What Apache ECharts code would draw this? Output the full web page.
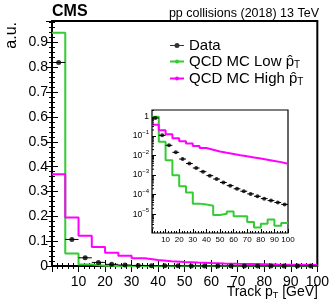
<!DOCTYPE html>
<html>
<head>
<meta charset="utf-8">
<script src="https://cdn.jsdelivr.net/npm/echarts@6/dist/echarts.min.js"></script>
<style>
html,body{margin:0;padding:0;background:#fff;}
#chart{width:332px;height:302px;}
</style>
</head>
<body>
<div id="chart"></div>
<script>
// ---- data ----
const binEdges = [0, 5, 10, 15, 20, 25, 30, 35, 40, 45, 50, 55, 60, 65, 70, 75, 80, 85, 90, 95, 100];
const binCenters = [2.5, 7.5, 12.5, 17.5, 22.5, 27.5, 32.5, 37.5, 42.5, 47.5, 52.5, 57.5, 62.5, 67.5, 72.5, 77.5, 82.5, 87.5, 92.5, 97.5];
const dataVals = [0.82, 0.107, 0.033, 0.0145, 0.0066, 0.0039, 0.0023, 0.0015, 0.00094, 0.00063,
                  0.00042, 0.00029, 0.00020, 0.00015, 0.00011, 0.000083, 0.000063, 0.000050, 0.000040, 0.000032];
const lowPtVals = [0.94, 0.05, 0.0057, 0.00098, 0.00027, 0.00013, 0.000035, 0.000032, 0.000027, 0.0000092,
                   0.0000107, 0.000014, 0.0000080, 0.0000079, 0.0000041, 0.0000021, 0.0000033, 0.0000054, 0.0000026, 0.0000036];
const highPtVals = [0.37, 0.195, 0.122, 0.077, 0.053, 0.041, 0.031, 0.024, 0.0195, 0.016,
                    0.0138, 0.012, 0.0104, 0.0091, 0.008, 0.007, 0.0061, 0.0053, 0.0046, 0.0038];
const mainYTicks = ['0', '0.1', '0.2', '0.3', '0.4', '0.5', '0.6', '0.7', '0.8', '0.9'];

const FONT = 'Liberation Sans';
const GREEN = '#33cc33';
const MAGENTA = '#ff00ff';

function stepData(vals) {
  return binEdges.map((e, i) => [e, vals[Math.min(i, vals.length - 1)]]);
}
function pointData(vals) {
  return binCenters.map((c, i) => [c, vals[i], binEdges[i], binEdges[i + 1]]);
}
function errBarRender(params, api) {
  const y = api.value(1);
  const p1 = api.coord([api.value(2), y]);
  const p2 = api.coord([api.value(3), y]);
  return { type: 'line', shape: { x1: p1[0], y1: p1[1], x2: p2[0], y2: p2[1] },
           style: { stroke: '#000', lineWidth: 1 } };
}
const INSET_YMIN = 1.11e-6, INSET_YMAX = 2.1;
const logMinor = [];
for (let d = -6; d <= 0; d++) {
  for (let m = 2; m <= 9; m++) {
    const v = m * Math.pow(10, d);
    if (v > INSET_YMIN && v < INSET_YMAX) logMinor.push([0, v]);
  }
}

const chart = echarts.init(document.getElementById('chart'), null, { renderer: 'canvas' });
const tickCommon = { show: true, inside: true, length: 6, lineStyle: { color: '#000', width: 1 } };
const minorCommon = { show: true, splitNumber: 5, length: 3, lineStyle: { color: '#000', width: 1 } };

const option = {
  animation: false,
  textStyle: { fontFamily: FONT, color: '#000' },
  grid: [
    { left: 52, right: 14, top: 21, bottom: 36, show: true, borderColor: '#000', borderWidth: 2, backgroundColor: 'transparent' },
    { left: 152, top: 110, width: 136, height: 123, show: true, borderColor: '#000', borderWidth: 1.2, backgroundColor: '#fff' }
  ],
  xAxis: [
    { gridIndex: 0, type: 'value', min: 0, max: 100, interval: 10, position: 'bottom',
      axisLine: { show: false }, axisTick: tickCommon, minorTick: minorCommon, splitLine: { show: false },
      axisLabel: { fontSize: 14, margin: 9, color: '#000', fontFamily: FONT, showMinLabel: false } },
    { gridIndex: 0, type: 'value', min: 0, max: 100, interval: 10, position: 'top',
      axisLine: { show: false }, axisTick: tickCommon, minorTick: minorCommon, splitLine: { show: false },
      axisLabel: { show: false } },
    { gridIndex: 1, type: 'value', min: 0, max: 100, interval: 10, position: 'bottom',
      axisLine: { show: false },
      axisTick: { show: true, inside: true, length: 4, lineStyle: { color: '#000', width: 1 } },
      minorTick: { show: true, splitNumber: 5, length: 2, lineStyle: { color: '#000', width: 1 } },
      splitLine: { show: false },
      axisLabel: { fontSize: 8, margin: 3, color: '#000', fontFamily: FONT, showMinLabel: false } }
  ],
  yAxis: [
    { gridIndex: 0, type: 'value', min: 0, max: 0.987, interval: 0.1, position: 'left',
      axisLine: { show: false }, axisTick: tickCommon, minorTick: minorCommon, splitLine: { show: false },
      axisLabel: { fontSize: 14, margin: 4, color: '#000', fontFamily: FONT, showMaxLabel: false,
        formatter: v => { const i = Math.round(v * 10); return mainYTicks[i] !== undefined ? mainYTicks[i] : ''; } } },
    { gridIndex: 0, type: 'value', min: 0, max: 0.987, interval: 0.1, position: 'right',
      axisLine: { show: false }, axisTick: tickCommon, minorTick: minorCommon, splitLine: { show: false },
      axisLabel: { show: false } },
    { gridIndex: 1, type: 'log', logBase: 10, min: INSET_YMIN, max: INSET_YMAX, splitNumber: 6, position: 'left',
      axisLine: { show: false },
      axisTick: { show: true, inside: true, length: 4, lineStyle: { color: '#000', width: 1 } },
      splitLine: { show: false },
      axisLabel: { margin: 3, color: '#000', fontFamily: FONT, showMinLabel: false, showMaxLabel: false,
        formatter: v => {
          const e = Math.round(Math.log10(v));
          if (Math.abs(Math.log10(v) - e) > 0.01) return '';
          if (e === 0) return '{b|1}';
          return '{b|10}{e|' + '\u2212' + Math.abs(e) + '}';
        },
        rich: {
          b: { fontSize: 8.5, fontFamily: FONT, color: '#000' },
          e: { fontSize: 6, fontFamily: FONT, color: '#000', padding: [0, 0, 7, 0] }
        } } }
  ],
  legend: {
    orient: 'vertical', left: 164, top: 33, itemWidth: 14, itemHeight: 5, itemGap: 0,
    textStyle: {
      fontFamily: FONT, fontSize: 15, color: '#000',
      rich: {
        t: { fontSize: 15, lineHeight: 18, fontFamily: FONT, color: '#000' },
        s: { fontSize: 10, lineHeight: 10, fontFamily: FONT, color: '#000', padding: [7, 0, 0, 0] }
      }
    },
    formatter: name => {
      if (name === 'Data') return '{t|Data}';
      return '{t|' + name + ' p\u0302}{s|T}';
    },
    data: [
      { name: 'Data', icon: 'path://M0,2 L14,2 L14,3 L0,3 Z M7,0 A2.5,2.5 0 1,1 7,5 A2.5,2.5 0 1,1 7,0 Z' },
      { name: 'QCD MC Low' },
      { name: 'QCD MC High' }
    ]
  },
  series: [
    { name: 'QCD MC Low', type: 'line', xAxisIndex: 0, yAxisIndex: 0, step: 'end', symbol: 'none',
      data: stepData(lowPtVals), lineStyle: { color: GREEN, width: 2 }, itemStyle: { color: GREEN }, z: 2 },
    { name: 'QCD MC High', type: 'line', xAxisIndex: 0, yAxisIndex: 0, step: 'end', symbol: 'none',
      data: stepData(highPtVals), lineStyle: { color: MAGENTA, width: 2 }, itemStyle: { color: MAGENTA }, z: 3 },
    { name: 'Data', type: 'scatter', xAxisIndex: 0, yAxisIndex: 0, symbol: 'circle', symbolSize: 5,
      data: pointData(dataVals), itemStyle: { color: '#000' }, z: 5 },
    { name: 'Data err', type: 'custom', xAxisIndex: 0, yAxisIndex: 0, renderItem: errBarRender,
      data: pointData(dataVals), encode: { x: 0, y: 1 }, z: 4 },
    // inset
    { name: 'inset low', type: 'line', xAxisIndex: 2, yAxisIndex: 2, step: 'end', symbol: 'none',
      data: stepData(lowPtVals), lineStyle: { color: GREEN, width: 2 }, z: 12 },
    { name: 'inset high', type: 'line', xAxisIndex: 2, yAxisIndex: 2, step: 'end', symbol: 'none',
      data: stepData(highPtVals), lineStyle: { color: MAGENTA, width: 2 }, z: 13 },
    { name: 'inset data err', type: 'custom', xAxisIndex: 2, yAxisIndex: 2, renderItem: errBarRender,
      data: pointData(dataVals), encode: { x: 0, y: 1 }, z: 14 },
    { name: 'inset data', type: 'scatter', xAxisIndex: 2, yAxisIndex: 2, symbol: 'circle', symbolSize: 4,
      data: pointData(dataVals), itemStyle: { color: '#000' }, z: 15 },
    { name: 'inset log minor ticks', type: 'custom', xAxisIndex: 2, yAxisIndex: 2, clip: true,
      renderItem: (params, api) => {
        const p = api.coord([api.value(0), api.value(1)]);
        return { type: 'line', shape: { x1: p[0], y1: p[1], x2: p[0] + 2, y2: p[1] },
                 style: { stroke: '#000', lineWidth: 1 } };
      },
      data: logMinor, encode: { x: 0, y: 1 }, silent: true, z: 16 }
  ],
  graphic: [
    { type: 'text', x: 52, y: 12, z: 100,
      style: { text: 'CMS', font: 'bold 16px "Liberation Sans"', fill: '#000', textVerticalAlign: 'middle' } },
    { type: 'text', x: 319, y: 14, z: 100,
      style: { text: 'pp collisions (2018) 13 TeV', font: '12.5px "Liberation Sans"', fill: '#000',
               textAlign: 'right', textVerticalAlign: 'middle' } },
    { type: 'text', x: 12, y: 22, rotation: Math.PI / 2, z: 100,
      style: { text: 'a.u.', font: '16px "Liberation Sans"', fill: '#000', textAlign: 'right', textVerticalAlign: 'middle' } },
    { type: 'text', x: 318, y: 292, z: 100,
      style: { text: '{a|Track p}{s|T}{a| [GeV]}', textAlign: 'right', textVerticalAlign: 'middle',
               rich: {
                 a: { fontSize: 14, lineHeight: 16, fontFamily: FONT, fill: '#000', color: '#000' },
                 s: { fontSize: 9, lineHeight: 9, fontFamily: FONT, fill: '#000', color: '#000', padding: [7, 0, 0, 0] }
               } } }
  ]
};
chart.setOption(option);
</script>
</body>
</html>
